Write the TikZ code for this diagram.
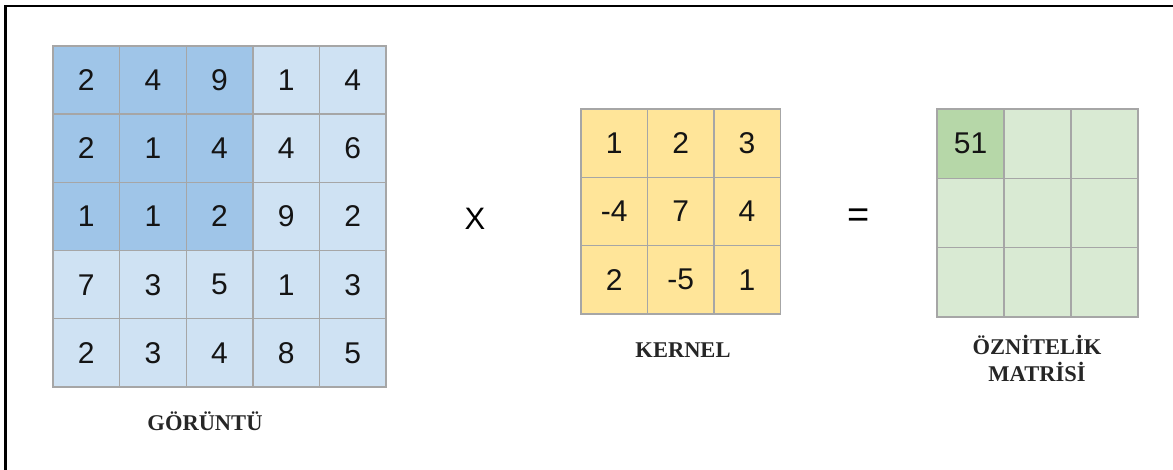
\documentclass[tikz,border=0pt]{standalone}
\usepackage{fontspec}
\setmainfont{Liberation Serif}
\newfontfamily\arialf{Liberation Sans}
\definecolor{bluedark}{HTML}{9FC5E8}
\definecolor{bluelight}{HTML}{CFE2F3}
\definecolor{kyellow}{HTML}{FFE599}
\definecolor{greenlight}{HTML}{D9EAD3}
\definecolor{greendark}{HTML}{B6D7A8}
\definecolor{gridgray}{HTML}{A6A6A6}
\tikzset{
  cellbox/.style={draw=gridgray, line width=1.4pt, inner sep=0pt, anchor=center,
    font=\arialf\fontsize{30}{30}\selectfont, text=black!92},
  biglabel/.style={font=\bfseries\fontsize{22.5}{27}\selectfont, align=center, text=black!85, inner sep=0pt},
  opsym/.style={font=\arialf\fontsize{31}{31}\selectfont, inner sep=0pt},
}
\begin{document}
\begin{tikzpicture}[x=1pt,y=-1pt]
\useasboundingbox (0,0) rectangle (1173,470);
\fill[white] (0,0) rectangle (1173,470);
\draw[line width=2.2pt, black] (5.5,470) -- (5.5,6) -- (1173,6);
% image grid
\def\gx{53}\def\gy{46}\def\gw{66.6}\def\gh{68.2}
\foreach \row [count=\r] in {{2,4,9,1,4},{2,1,4,4,6},{1,1,2,9,2},{7,3,5,1,3},{2,3,4,8,5}}{
  \foreach \v [count=\c] in \row {
    \pgfmathsetmacro{\isdark}{(\r<4 && \c<4) ? 1 : 0}
    \ifdim\isdark pt>0.5pt \def\fc{bluedark}\else\def\fc{bluelight}\fi
    \node[cellbox, fill=\fc, minimum width=\gw pt, minimum height=\gh pt]
      (g-\r-\c) at ({\gx+\gw*(\c-0.5)},{\gy+\gh*(\r-0.5)}) {\v};
  }
}
% kernel
\def\kx{581}\def\ky{109}\def\kw{66.4}\def\kh{68.3}
\foreach \row [count=\r] in {{1,2,3},{-4,7,4},{2,-5,1}}{
  \foreach \v [count=\c] in \row {
    \node[cellbox, fill=kyellow, minimum width=\kw pt, minimum height=\kh pt]
      (k-\r-\c) at ({\kx+\kw*(\c-0.5)},{\ky+\kh*(\r-0.5)}) {\v};
  }
}
% output
\def\ox{937}\def\oy{109}\def\ow{67}\def\oh{69.3}
\foreach \r in {1,2,3}{
  \foreach \c in {1,2,3}{
    \node[cellbox, fill=greenlight, minimum width=\ow pt, minimum height=\oh pt]
      (o-\r-\c) at ({\ox+\ow*(\c-0.5)},{\oy+\oh*(\r-0.5)}) {};
  }
}
\node[cellbox, fill=greendark, minimum width=\ow pt, minimum height=\oh pt]
  (o-first) at (o-1-1.center) {51};
% operators
\node[opsym] (times) at (475,219) {X};
\node[opsym, font=\arialf\fontsize{38}{38}\selectfont] (equals) at (859,218) {=};
% labels
\node[biglabel] (lg) at (205,421) {GÖRÜNTÜ};
\node[biglabel] (lk) at (683,350) {KERNEL};
\node[biglabel] (lo) at (1037,358) {ÖZNİTELİK\\MATRİSİ};
\end{tikzpicture}
\end{document}
